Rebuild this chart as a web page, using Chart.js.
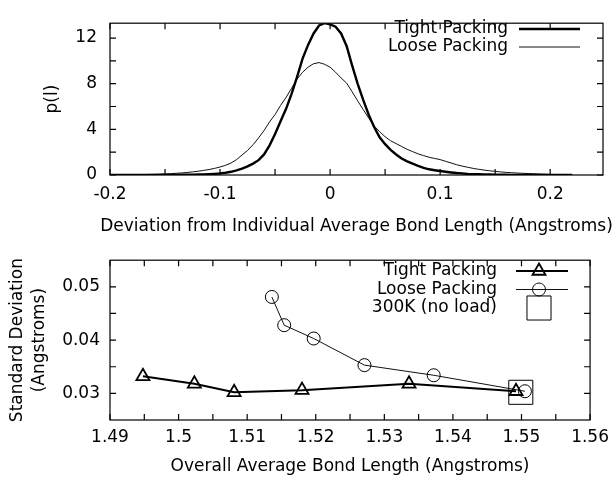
<!DOCTYPE html>
<html>
<head>
<meta charset="utf-8">
<script src="https://cdn.jsdelivr.net/npm/chart.js@4.4.0/dist/chart.umd.min.js"></script>
<style>
  body { margin: 0; background: #fff; }
  canvas { position: absolute; left: 0; }
</style>
</head>
<body>
<canvas id="distChart" width="616" height="240" style="top:0"></canvas>
<canvas id="stdChart" width="616" height="237" style="top:240px"></canvas>
<script>
// ---- top panel: bond length deviation histograms ----
const bins = [
  -0.200, -0.195, -0.190, -0.185, -0.180, -0.175, -0.170, -0.165, -0.160, -0.155,
  -0.150, -0.145, -0.140, -0.135, -0.130, -0.125, -0.120, -0.115, -0.110, -0.105,
  -0.100, -0.095, -0.090, -0.085, -0.080, -0.075, -0.070, -0.065, -0.060, -0.055,
  -0.050, -0.045, -0.040, -0.035, -0.030, -0.025, -0.020, -0.015, -0.010, -0.005,
   0.000,  0.005,  0.010,  0.015,  0.020,  0.025,  0.030,  0.035,  0.040,  0.045,
   0.050,  0.055,  0.060,  0.065,  0.070,  0.075,  0.080,  0.085,  0.090,  0.095,
   0.100,  0.105,  0.110,  0.115,  0.120,  0.125,  0.130,  0.135,  0.140,  0.145,
   0.150,  0.155,  0.160,  0.165,  0.170,  0.175,  0.180,  0.185,  0.190,  0.195,
   0.200,  0.205,  0.210,  0.215,  0.220
];
const tightDist = [
  0, 0, 0, 0, 0, 0, 0, 0, 0, 0.01,
  0.01, 0.01, 0.01, 0.02, 0.02, 0.03, 0.04, 0.05, 0.07, 0.1,
  0.14, 0.2, 0.28, 0.4, 0.55, 0.75, 1.0, 1.3, 1.8, 2.6,
  3.6, 4.7, 5.8, 7.1, 8.6, 10.2, 11.4, 12.4, 13.1, 13.3,
  13.2, 13.0, 12.4, 11.3, 9.6, 8.0, 6.6, 5.3, 4.2, 3.3,
  2.7, 2.2, 1.8, 1.45, 1.2, 1.0, 0.8, 0.62, 0.5, 0.42,
  0.35, 0.28, 0.22, 0.17, 0.14, 0.1, 0.08, 0.06, 0.05, 0.04,
  0.03, 0.02, 0.02, 0.01, 0.01, 0.01, 0, 0, 0, 0,
  0, 0, 0, 0, 0
];
const looseDist = [
  0.01, 0.01, 0.01, 0.02, 0.02, 0.03, 0.04, 0.05, 0.06, 0.08,
  0.1, 0.12, 0.15, 0.18, 0.22, 0.27, 0.33, 0.4, 0.48, 0.58,
  0.7, 0.85, 1.05, 1.35, 1.75, 2.15, 2.65, 3.25, 3.9, 4.65,
  5.3, 6.1, 6.8, 7.6, 8.4, 9.0, 9.45, 9.75, 9.85, 9.7,
  9.45, 9.0, 8.5, 8.05, 7.3, 6.5, 5.75, 5.0, 4.3, 3.8,
  3.35, 3.0, 2.75, 2.5, 2.25, 2.05, 1.85, 1.7, 1.55, 1.45,
  1.35, 1.2, 1.05, 0.9, 0.78, 0.68, 0.58, 0.5, 0.43, 0.37,
  0.32, 0.27, 0.23, 0.2, 0.17, 0.15, 0.13, 0.11, 0.09, 0.07,
  0.05, 0.03, 0.02, 0.01, 0
];
const distXTicks = [-0.2, -0.15, -0.1, -0.05, 0, 0.05, 0.1, 0.15, 0.2];
const distXLabels = ['-0.2', '', '-0.1', '', '0', '', '0.1', '', '0.2'];
const distYTicks = [0, 2, 4, 6, 8, 10, 12];
const distYLabels = ['0', '', '4', '', '8', '', '12'];

// ---- bottom panel: standard deviation vs average bond length ----
const tightBond = [1.4948, 1.5023, 1.5081, 1.5180, 1.5336, 1.5492];
const tightStd  = [0.0332, 0.0318, 0.0302, 0.0306, 0.0318, 0.0304];
const looseBond = [1.5136, 1.5154, 1.5197, 1.5271, 1.5372, 1.5505];
const looseStd  = [0.0481, 0.0428, 0.0403, 0.0353, 0.0334, 0.0304];
const noLoadBond = [1.5499];
const noLoadStd  = [0.0302];
const stdXTicks = [1.49, 1.495, 1.5, 1.505, 1.51, 1.515, 1.52, 1.525, 1.53, 1.535, 1.54, 1.545, 1.55, 1.555, 1.56];
const stdXLabels = ['1.49', '', '1.5', '', '1.51', '', '1.52', '', '1.53', '', '1.54', '', '1.55', '', '1.56'];
const stdYTicks = [0.03, 0.035, 0.04, 0.045, 0.05];
const stdYLabels = ['0.03', '', '0.04', '', '0.05'];

const FONT = 'DejaVu Sans';
const FSIZE = 17;
Chart.defaults.font.family = FONT;
Chart.defaults.font.size = FSIZE;
Chart.defaults.color = '#000';

const pts = (xs, ys) => xs.map((x, i) => ({ x: x, y: ys[i] }));
const fixTicks = vals => scale => { scale.ticks = vals.map(v => ({ value: v })); };

// gnuplot-like frame: box plus inward ticks mirrored on all sides
const framePlugin = {
  id: 'frame',
  beforeDatasetsDraw(chart) {
    const { ctx, chartArea: a, scales } = chart;
    const len = 6;
    ctx.save();
    ctx.strokeStyle = '#000';
    ctx.lineWidth = 1.2;
    ctx.strokeRect(a.left, a.top, a.right - a.left, a.bottom - a.top);
    ctx.beginPath();
    scales.x.ticks.forEach(t => {
      const px = scales.x.getPixelForValue(t.value);
      ctx.moveTo(px, a.bottom); ctx.lineTo(px, a.bottom - len);
      ctx.moveTo(px, a.top); ctx.lineTo(px, a.top + len);
    });
    scales.y.ticks.forEach(t => {
      const py = scales.y.getPixelForValue(t.value);
      ctx.moveTo(a.left, py); ctx.lineTo(a.left + len, py);
      ctx.moveTo(a.right, py); ctx.lineTo(a.right - len, py);
    });
    ctx.stroke();
    ctx.restore();
  }
};

// x caption centred under the plot area, allowed to run wider than it
const captionPlugin = {
  id: 'caption',
  afterDraw(chart, args, opts) {
    if (!opts.text) return;
    const { ctx, chartArea: a } = chart;
    ctx.save();
    ctx.font = FSIZE + 'px "' + FONT + '"';
    ctx.fillStyle = '#000';
    ctx.textAlign = 'center';
    ctx.textBaseline = 'middle';
    ctx.fillText(opts.text, (a.left + a.right) / 2, opts.y);
    ctx.restore();
  }
};

// key in the top-right corner, text right-aligned and sample to its right
const keyPlugin = {
  id: 'key',
  afterDatasetsDraw(chart, args, opts) {
    const ctx = chart.ctx;
    ctx.save();
    ctx.font = FSIZE + 'px "' + FONT + '"';
    ctx.textAlign = 'right';
    ctx.textBaseline = 'middle';
    chart.data.datasets.forEach((ds, i) => {
      const y = opts.y0 + i * opts.dy;
      ctx.fillStyle = '#000';
      ctx.fillText(ds.label, opts.textRight, y);
      ctx.strokeStyle = ds.borderColor;
      if (ds.showLine !== false) {
        ctx.lineWidth = ds.borderWidth;
        ctx.beginPath();
        ctx.moveTo(opts.x0, y);
        ctx.lineTo(opts.x1, y);
        ctx.stroke();
      }
      if (ds.pointRadius && Chart.helpers && Chart.helpers.drawPoint) {
        ctx.fillStyle = 'rgba(0,0,0,0)';
        ctx.lineWidth = ds.pointBorderWidth;
        Chart.helpers.drawPoint(ctx, {
          pointStyle: ds.pointStyle, radius: ds.pointRadius,
          borderWidth: ds.pointBorderWidth, rotation: 0
        }, opts.markX, y);
      }
    });
    ctx.restore();
  }
};

const tickFont = { family: FONT, size: FSIZE };

new Chart(document.getElementById('distChart'), {
  type: 'line',
  data: {
    datasets: [
      { label: 'Tight Packing', data: pts(bins, tightDist), borderColor: '#000', borderWidth: 2.4, pointRadius: 0, tension: 0 },
      { label: 'Loose Packing', data: pts(bins, looseDist), borderColor: '#111', borderWidth: 1, pointRadius: 0, tension: 0 }
    ]
  },
  options: {
    responsive: false,
    animation: false,
    layout: { padding: { top: 13, right: 13, left: 0, bottom: 0 } },
    scales: {
      x: {
        type: 'linear', min: -0.2, max: 0.248,
        afterBuildTicks: fixTicks(distXTicks),
        afterFit: s => { s.height = 65; },
        grid: { display: false, drawTicks: false },
        border: { display: false },
        ticks: { padding: 9, maxRotation: 0, autoSkip: false, font: tickFont,
                 callback: (v, i) => distXLabels[i] }
      },
      y: {
        min: 0, max: 13.3,
        afterBuildTicks: fixTicks(distYTicks),
        afterFit: s => { s.width = 110; },
        grid: { display: false, drawTicks: false },
        border: { display: false },
        ticks: { padding: 13, font: tickFont, callback: (v, i) => distYLabels[i] },
        title: { display: true, text: 'p(l)', font: tickFont, padding: { top: 42, bottom: 0 } }
      }
    },
    plugins: {
      legend: { display: false },
      tooltip: { enabled: false },
      caption: { text: 'Deviation from Individual Average Bond Length (Angstroms)', y: 227 },
      key: { textRight: 508, x0: 519, x1: 580, markX: 550, y0: 29, dy: 18 }
    }
  },
  plugins: [framePlugin, keyPlugin, captionPlugin]
});

new Chart(document.getElementById('stdChart'), {
  type: 'line',
  data: {
    datasets: [
      { label: 'Tight Packing', data: pts(tightBond, tightStd), borderColor: '#000', borderWidth: 2,
        pointStyle: 'triangle', pointRadius: 7.5, pointBorderWidth: 1.8, pointBackgroundColor: 'rgba(0,0,0,0)',
        pointBorderColor: '#000', tension: 0 },
      { label: 'Loose Packing', data: pts(looseBond, looseStd), borderColor: '#111', borderWidth: 1,
        pointStyle: 'circle', pointRadius: 6.5, pointBorderWidth: 1, pointBackgroundColor: 'rgba(0,0,0,0)',
        pointBorderColor: '#000', tension: 0 },
      { label: '300K (no load)', data: pts(noLoadBond, noLoadStd), borderColor: '#000', showLine: false,
        pointStyle: 'rect', pointRadius: 17, pointBorderWidth: 1, pointBackgroundColor: 'rgba(0,0,0,0)',
        pointBorderColor: '#000' }
    ]
  },
  options: {
    responsive: false,
    animation: false,
    layout: { padding: { top: 16, right: 23, left: 0, bottom: 0 } },
    scales: {
      x: {
        type: 'linear', min: 1.49, max: 1.56,
        afterBuildTicks: fixTicks(stdXTicks),
        afterFit: s => { s.height = 57; },
        grid: { display: false, drawTicks: false },
        border: { display: false },
        ticks: { padding: 7, maxRotation: 0, autoSkip: false, font: tickFont,
                 callback: (v, i) => stdXLabels[i] },
        title: { display: true, text: 'Overall Average Bond Length (Angstroms)', font: tickFont,
                 padding: { top: 0, bottom: 0 } }
      },
      y: {
        min: 0.025, max: 0.055,
        afterBuildTicks: fixTicks(stdYTicks),
        afterFit: s => { s.width = 110; },
        grid: { display: false, drawTicks: false },
        border: { display: false },
        ticks: { padding: 10, font: tickFont, callback: (v, i) => stdYLabels[i] },
        title: { display: true, text: ['Standard Deviation', '(Angstroms)'],
                 font: { family: FONT, size: FSIZE, lineHeight: 1.294 }, padding: { top: 7, bottom: 0 } }
      }
    },
    plugins: {
      legend: { display: false },
      tooltip: { enabled: false },
      key: { textRight: 497, x0: 516, x1: 568, markX: 539, y0: 31, dy: 18.5 }
    }
  },
  plugins: [framePlugin, keyPlugin]
});
</script>
</body>
</html>
